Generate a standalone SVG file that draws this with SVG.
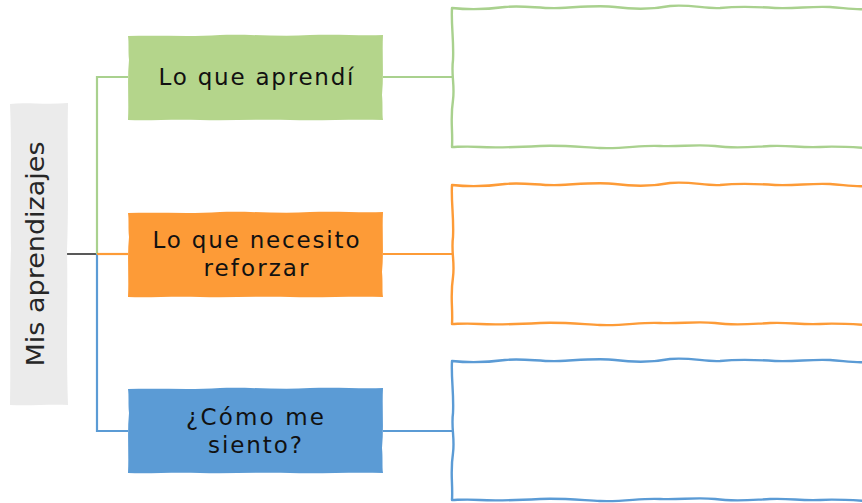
<svg xmlns="http://www.w3.org/2000/svg" xmlns:xlink="http://www.w3.org/1999/xlink" width="862" height="503" viewBox="0 0 862 503">
<style>
.lbl{font-family:"DejaVu Sans","Noto Sans",sans-serif;font-size:23px;fill:#111111;text-anchor:middle}
.main{font-family:"DejaVu Sans","Noto Sans",sans-serif;font-size:25px;fill:#262626;text-anchor:middle}
.g{stroke:#a9d18e}
.o{stroke:#fd9b37}
.b{stroke:#5b9bd5}
.conn line{stroke-width:2.2;fill:none}
.big{fill:#ffffff;stroke-width:2.4;stroke-linejoin:round}
</style>
<defs>
<path id="bigbox" d="M452,0 C470,2 490,1 505,-1 C525,-3 540,1 560,0 C580,-1 600,-3 615,-1 C630,1 650,2 670,-2 C690,-4 705,1 720,0 C740,-2 760,-1 775,0 C795,1 810,-2 830,-1 C845,0 855,2 866,1 L866,140 C850,139 835,138 820,139 C800,140 790,137 770,138 C750,139 735,141 715,138 C695,136 680,139 660,138 C640,137 625,141 600,140 C580,139 560,137 540,138 C520,139 500,140 480,139 C465,138 458,139 452,139 C453,122 450,112 453,92 C455,77 451,67 453,52 C454,32 451,17 452,0 Z"/>
<path id="smallbox" d="M128,1 C160,0 190,2 220,0 C250,-1 280,2 310,0 C340,-1 360,1 383,0 C382,20 384,40 382,60 C383,70 382,78 383,85 C350,84 320,86 290,85 C260,84 230,86 200,85 C170,84 150,86 128,85 C129,65 127,45 129,25 C128,15 129,8 128,1 Z"/>
</defs>

<g id="connectors" class="conn">
<line x1="63" y1="254" x2="97" y2="254" stroke="#595959" stroke-width="3"/>
<polyline points="128,77 97,77 97,254" class="g" fill="none" stroke-width="2.2"/>
<polyline points="97,254 97,431 128,431" class="b" fill="none" stroke-width="2.2"/>
<line x1="97" y1="254" x2="128" y2="254" class="o"/>
<line x1="383" y1="77" x2="452" y2="77" class="g"/>
<line x1="383" y1="254" x2="452" y2="254" class="o"/>
<line x1="383" y1="431" x2="452" y2="431" class="b"/>
</g>

<g id="mis-aprendizajes">
<path d="M10,104 C25,102 45,105 68,103 C67,150 69,200 67,250 C68,300 66,350 68,405 C50,404 30,406 10,405 C11,350 9,300 11,250 C10,200 12,150 10,104 Z" fill="#ebebeb"/>
<text class="main" transform="translate(44,254) rotate(-90)" textLength="225" lengthAdjust="spacingAndGlyphs">Mis aprendizajes</text>
</g>

<g id="lo-que-aprendi">
<use xlink:href="#smallbox" transform="translate(0,35)" fill="#b4d58b"/>
<text class="lbl" x="256" y="85" textLength="195" lengthAdjust="spacing">Lo que aprendí</text>
</g>

<g id="lo-que-necesito">
<use xlink:href="#smallbox" transform="translate(0,212)" fill="#fd9b37"/>
<text class="lbl" x="256" y="248" textLength="207" lengthAdjust="spacing">Lo que necesito</text>
<text class="lbl" x="256" y="276" textLength="105" lengthAdjust="spacing">reforzar</text>
</g>

<g id="como-me-siento">
<use xlink:href="#smallbox" transform="translate(0,388)" fill="#5b9bd5"/>
<text class="lbl" x="255" y="425" textLength="138" lengthAdjust="spacing">¿Cómo me</text>
<text class="lbl" x="255" y="453" textLength="94" lengthAdjust="spacing">siento?</text>
</g>

<g id="box-aprendi">
<use xlink:href="#bigbox" transform="translate(0,8)" class="big g"/>
</g>
<g id="box-reforzar">
<use xlink:href="#bigbox" transform="translate(0,185)" class="big o"/>
</g>
<g id="box-siento">
<use xlink:href="#bigbox" transform="translate(0,361)" class="big b"/>
</g>
</svg>
